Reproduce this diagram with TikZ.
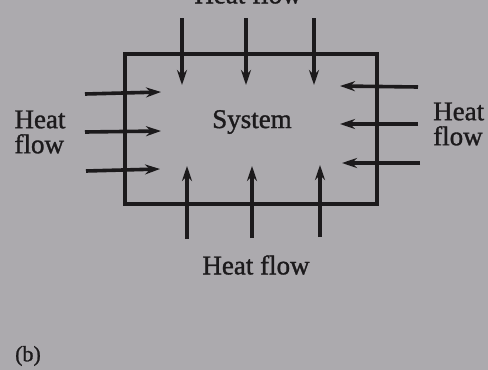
\documentclass[tikz,border=0pt]{standalone}
\usepackage{fontspec}
\setmainfont{Liberation Serif}
\newfontface\heavy{Liberation Serif}[FakeBold=1.2]
\usetikzlibrary{arrows.meta}
\definecolor{paper}{RGB}{172,170,174}
\definecolor{ink}{RGB}{28,26,28}
\tikzset{
  flow/.style={draw=ink, line width=3.6pt, -{Stealth[length=15pt,width=10pt]}},
  wall/.style={draw=ink, line width=3.2pt},
  lbl/.style={text=ink, font=\heavy\fontsize{27}{25}\selectfont, inner sep=0pt, align=center},
}
\begin{document}
\begin{tikzpicture}[x=1pt,y=-1pt]
\fill[paper] (0,0) rectangle (488,370);
\useasboundingbox (0,0) rectangle (488,370);
\begin{scope}
\clip (0,0) rectangle (488,370);
% system box
\node[wall, minimum width=252pt, minimum height=150pt, inner sep=0pt] (box) at (251,129) {};
\node[lbl] (sys) at (252,122) {System};
% top arrows
\coordinate (t1s) at (182,18); \coordinate (t1e) at (182,85);
\coordinate (t2s) at (246,18); \coordinate (t2e) at (246,85);
\coordinate (t3s) at (314,18); \coordinate (t3e) at (314,85);
\draw[flow] (t1s) -- (t1e);
\draw[flow] (t2s) -- (t2e);
\draw[flow] (t3s) -- (t3e);
\node[lbl] (toplbl) at (248,-6) {Heat flow};
% bottom arrows
\coordinate (b1s) at (187,239); \coordinate (b1e) at (187,166);
\coordinate (b2s) at (252,238); \coordinate (b2e) at (252,166);
\coordinate (b3s) at (320,237); \coordinate (b3e) at (320,165);
\draw[flow] (b1s) -- (b1e);
\draw[flow] (b2s) -- (b2e);
\draw[flow] (b3s) -- (b3e);
\node[lbl] (botlbl) at (256,265) {Heat flow};
% left arrows
\coordinate (l1s) at (85,94); \coordinate (l1e) at (161,92);
\coordinate (l2s) at (85,132); \coordinate (l2e) at (161,131);
\coordinate (l3s) at (86,171); \coordinate (l3e) at (160,169);
\draw[flow] (l1s) -- (l1e);
\draw[flow] (l2s) -- (l2e);
\draw[flow] (l3s) -- (l3e);
\node[lbl, align=left] (leftlbl) at (40,132) {Heat\\flow};
% right arrows
\coordinate (r1s) at (418,87); \coordinate (r1e) at (340,86);
\coordinate (r2s) at (418,124); \coordinate (r2e) at (340,124);
\coordinate (r3s) at (420,163); \coordinate (r3e) at (342,163);
\draw[flow] (r1s) -- (r1e);
\draw[flow] (r2s) -- (r2e);
\draw[flow] (r3s) -- (r3e);
\node[lbl, align=left, anchor=west] (rightlbl) at (433,124) {Heat\\flow};
% caption
\node[lbl, font=\heavy\fontsize{22}{22}\selectfont] (cap) at (28,356) {(b)};
\end{scope}
\end{tikzpicture}
\end{document}
